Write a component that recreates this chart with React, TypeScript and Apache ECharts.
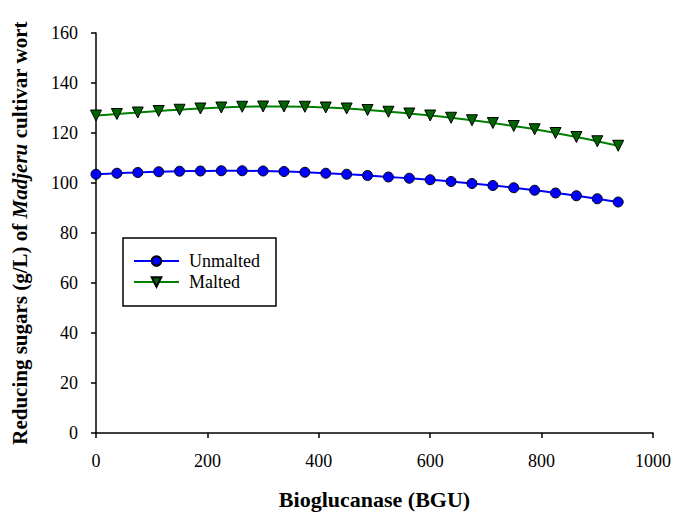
import React, { useEffect, useRef } from "react";
import * as echarts from "echarts";

const xValues = [0, 37.5, 75, 112.5, 150, 187.5, 225, 262.5, 300, 337.5, 375, 412.5, 450, 487.5, 525, 562.5, 600, 637.5, 675, 712.5, 750, 787.5, 825, 862.5, 900, 937.5];
const unmalted = [103.5, 103.9, 104.2, 104.5, 104.7, 104.8, 104.9, 104.9, 104.8, 104.6, 104.3, 103.9, 103.5, 103.0, 102.4, 101.9, 101.3, 100.6, 99.8, 99.0, 98.1, 97.1, 96.0, 94.9, 93.7, 92.4];
const malted = [127.0, 127.6, 128.2, 128.8, 129.3, 129.8, 130.2, 130.5, 130.6, 130.6, 130.5, 130.2, 129.8, 129.2, 128.5, 127.8, 127.0, 126.1, 125.1, 124.0, 122.8, 121.5, 120.0, 118.4, 116.7, 114.9];
const seriesNames = ["Unmalted", "Malted"];
const xTitle = "Bioglucanase (BGU)";

const FONT = "Liberation Serif";

export default function App() {
  const ref = useRef<HTMLDivElement>(null);
  useEffect(() => {
    if (!ref.current) return;
    const chart = echarts.init(ref.current, null, { renderer: "svg" });
    chart.setOption({
      animation: false,
      backgroundColor: "#ffffff",
      textStyle: { fontFamily: FONT },
      grid: { left: 96, right: 24, top: 33, bottom: 80, containLabel: false, outerBoundsMode: "none" },
      legend: {
        left: 123,
        top: 238,
        orient: "vertical",
        padding: [14, 16, 15, 10],
        itemGap: 3,
        itemWidth: 45,
        itemHeight: 12,
        borderColor: "#000",
        borderWidth: 1.5,
        borderRadius: 0,
        textStyle: { fontFamily: FONT, fontSize: 18, color: "#000", padding: [0, 0, 0, 5] },
        data: seriesNames,
      },
      xAxis: {
        type: "value",
        min: 0,
        max: 1000,
        interval: 200,
        name: xTitle,
        nameLocation: "middle",
        nameGap: 55,
        nameTextStyle: { fontFamily: FONT, fontSize: 22, fontWeight: "bold", color: "#000" },
        axisLine: { show: true, lineStyle: { color: "#000", width: 1.5 } },
        axisTick: { show: true, inside: false, length: 5, lineStyle: { color: "#000", width: 1.5 } },
        axisLabel: { fontFamily: FONT, fontSize: 18, color: "#000", margin: 19, formatter: (v: number) => String(v) },
        splitLine: { show: false },
      },
      yAxis: {
        type: "value",
        min: 0,
        max: 160,
        interval: 20,
        name: "{b|Reducing sugars (g/L) of }{i|Madjeru}{b| cultivar wort}",
        nameLocation: "middle",
        nameGap: 66,
        nameTextStyle: {
          fontFamily: FONT,
          fontSize: 21,
          fontWeight: "bold",
          color: "#000",
          rich: {
            b: { fontFamily: FONT, fontSize: 21, fontWeight: "bold", color: "#000" },
            i: { fontFamily: FONT, fontSize: 21, fontWeight: "bold", fontStyle: "italic", color: "#000" },
          },
        },
        axisLine: { show: true, lineStyle: { color: "#000", width: 1.5 } },
        axisTick: { show: true, inside: false, length: 5, lineStyle: { color: "#000", width: 1.5 } },
        axisLabel: { fontFamily: FONT, fontSize: 18, color: "#000", margin: 18 },
        splitLine: { show: false },
      },
      series: [
        {
          name: seriesNames[0],
          type: "line",
          data: xValues.map((x, i) => [x, unmalted[i]]),
          smooth: 0.3,
          symbol: "circle",
          symbolSize: 10,
          lineStyle: { color: "#0000ff", width: 2 },
          itemStyle: { color: "#0000ff", borderColor: "#000", borderWidth: 1 },
          z: 3,
        },
        {
          name: seriesNames[1],
          type: "line",
          data: xValues.map((x, i) => [x, malted[i]]),
          smooth: 0.3,
          symbol: "triangle",
          symbolRotate: 180,
          symbolSize: 11,
          lineStyle: { color: "#008000", width: 2 },
          itemStyle: { color: "#006400", borderColor: "#000", borderWidth: 1 },
          z: 3,
        },
      ],
    });
    return () => chart.dispose();
  }, []);
  return (
    <div
      ref={ref}
      style={{ position: "fixed", left: 0, top: 0, width: 677, height: 513, background: "#fff" }}
    />
  );
}
